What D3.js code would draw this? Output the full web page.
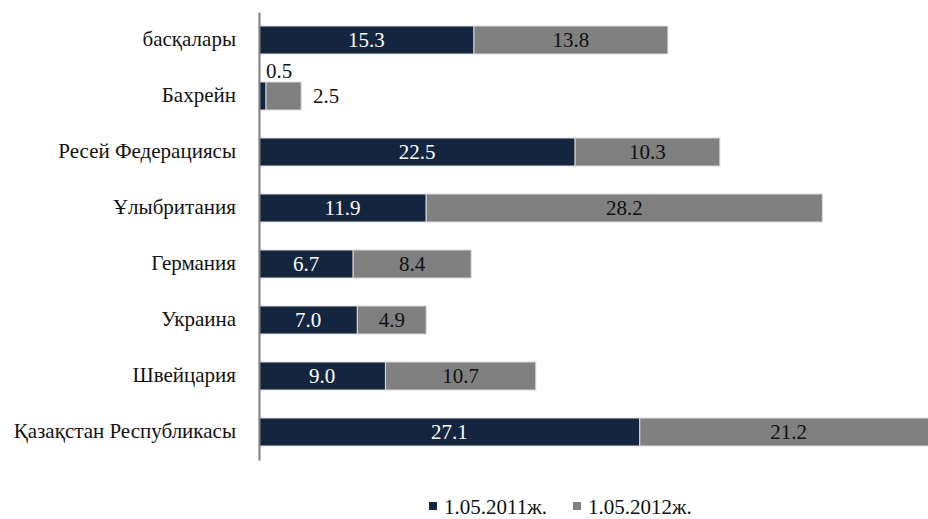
<!DOCTYPE html>
<html><head><meta charset="utf-8">
<script src="https://cdn.jsdelivr.net/npm/d3@7"></script>
<style>body{margin:0;background:#fff}svg{display:block}</style>
</head><body><svg id="c" width="928" height="519"></svg>
<script>
const categories = ["басқалары","Бахрейн","Ресей Федерациясы","Ұлыбритания","Германия","Украина","Швейцария","Қазақстан Республикасы"];
const series2011 = [15.3,0.5,22.5,11.9,6.7,7.0,9.0,27.1];
const series2012 = [13.8,2.5,10.3,28.2,8.4,4.9,10.7,21.2];
const seriesNames = ["1.05.2011ж.","1.05.2012ж."];
const colors = ["#14263f","#808080"];

const FS = 21, FF = 'Liberation Serif';
const svg = d3.select("#c");
const x = d3.scaleLinear().domain([0,50]).range([259,961.5]);
const y = d3.scaleBand().domain(categories).range([12,460]).paddingInner(0.5).paddingOuter(0.25);

const rows = categories.map((c,i)=>({cat:c, v:[series2011[i],series2012[i]]}));
const g = svg.append("g");
rows.forEach(r=>{
  let start=0;
  r.v.forEach((v,k)=>{
    g.append("rect").attr("x",x(start)).attr("y",y(r.cat)).attr("width",x(start+v)-x(start)).attr("height",y.bandwidth())
      .attr("fill",colors[k]).attr("stroke","#d9d9d9").attr("stroke-width",1);
    const small = (x(start+v)-x(start))<40;
    let tx = x(start+v/2), ty = y(r.cat)+y.bandwidth()/2+7, fill = k===0?"#fff":"#111";
    if(small){
      fill="#111";
      if(k===0){ tx = x(start)+20; ty = y(r.cat)-4; }
      else { tx = x(start+v)+25; ty = y(r.cat)+y.bandwidth()/2+7; }
    }
    g.append("text").attr("x",tx).attr("y",ty).attr("text-anchor","middle")
      .attr("font-size",FS).style("font-family",FF).attr("fill",fill).text(v.toFixed(1));
    start+=v;
  });
});
// axis
const ax = svg.append("g").attr("transform","translate(259,0)").call(d3.axisLeft(y).tickSize(0).tickPadding(23));
ax.attr("font-family",null).attr("font-size",null);
ax.select(".domain").attr("stroke","#808080").attr("stroke-width",2);
ax.selectAll("text").attr("font-size",FS).style("font-family",FF).attr("fill","#111").attr("dy","0.3em");
// legend
const lg = svg.append("g");
const lx=[429,573];
seriesNames.forEach((n,k)=>{
  lg.append("rect").attr("x",lx[k]).attr("y",502).attr("width",8).attr("height",8).attr("fill",colors[k]);
  lg.append("text").attr("x",lx[k]+15).attr("y",514).attr("font-size",FS).style("font-family",FF).attr("fill","#111").text(n);
});
</script></body></html>
